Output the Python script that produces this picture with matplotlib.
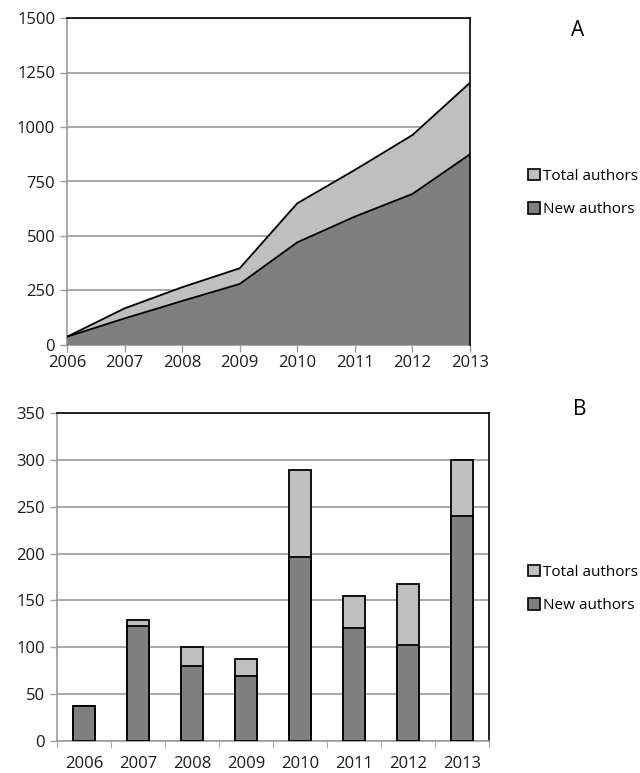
import matplotlib.pyplot as plt
import numpy as np
from matplotlib.patches import Patch

years = ['2006', '2007', '2008', '2009', '2010', '2011', '2012', '2013']

# panel A - cumulative
cum_total = [38, 168, 265, 352, 650, 803, 963, 1203]
cum_new = [38, 122, 202, 280, 471, 589, 693, 875]

# panel B - per year
year_total = [37, 129, 100, 88, 289, 155, 167, 300]
year_new = [37, 123, 80, 69, 196, 121, 102, 240]

dark = '#7f7f7f'
light = '#bfbfbf'
grid_col = '#9a9a9a'

plt.rcParams['font.family'] = ['Open Sans', 'DejaVu Sans']
plt.rcParams['font.size'] = 12

fig = plt.figure(figsize=(6.4, 7.73), dpi=100)
W, H = 640, 773

def px_axes(l, t, r, b):
    return fig.add_axes([l / W, 1 - b / H, (r - l) / W, (b - t) / H])

def style(ax):
    ax.set_axisbelow(True)
    ax.grid(axis='y', color=grid_col, linewidth=1.2)
    for s in ['top', 'right']:
        ax.spines[s].set_color('black')
        ax.spines[s].set_linewidth(1.2)
    for s in ['left', 'bottom']:
        ax.spines[s].set_color(grid_col)
        ax.spines[s].set_linewidth(1.2)
    ax.tick_params(axis='both', colors=grid_col, labelcolor='#1a1a1a', length=5, width=1)

# ---- A ----
axA = px_axes(67, 18, 470, 345)
x = np.arange(len(years))
axA.fill_between(x, 0, cum_total, color=light, edgecolor='none', zorder=2)
axA.fill_between(x, 0, cum_new, color=dark, edgecolor='none', zorder=3)
axA.plot(x, cum_total, color='black', linewidth=1.3, zorder=4)
axA.plot(x, cum_new, color='black', linewidth=1.3, zorder=4)
axA.set_xlim(0, 7)
axA.set_ylim(0, 1500)
axA.set_yticks([0, 250, 500, 750, 1000, 1250, 1500])
axA.set_xticks(x)
axA.set_xticklabels(years)
style(axA)
axA.tick_params(axis='x', pad=2)
axA.spines['right'].set_zorder(5)

# ---- B ----
axB = px_axes(57, 413, 489, 741)
axB.bar(x, year_total, width=0.42, color=light, edgecolor='black', linewidth=1.3, zorder=2)
axB.bar(x, year_new, width=0.42, color=dark, edgecolor='black', linewidth=1.3, zorder=3)
axB.set_xlim(-0.5, 7.5)
axB.set_ylim(0, 350)
axB.set_yticks(range(0, 351, 50))
axB.set_xticks(x)
axB.set_xticklabels(years)
axB.set_xticks(np.arange(-0.5, 8, 1), minor=True)
style(axB)
axB.tick_params(axis='x', which='major', length=0, pad=11)
axB.tick_params(axis='x', which='minor', length=5, color=grid_col)

fig.text(578 / W, 1 - 30 / H, 'A', fontsize=15, ha='center', va='center')
fig.text(580 / W, 1 - 410 / H, 'B', fontsize=15, ha='center', va='center')

handles = [Patch(facecolor=light, edgecolor='black', linewidth=1.2, label='Total authors'),
           Patch(facecolor=dark, edgecolor='black', linewidth=1.2, label='New authors')]
for yc in (193, 589):
    fig.legend(handles=handles, loc='center left', bbox_to_anchor=(520 / W, 1 - yc / H),
               frameon=False, handlelength=0.8, handleheight=0.8, handletextpad=0.2,
               labelspacing=1.2, borderpad=0, fontsize=11)

fig.savefig('out.png', dpi=100)
